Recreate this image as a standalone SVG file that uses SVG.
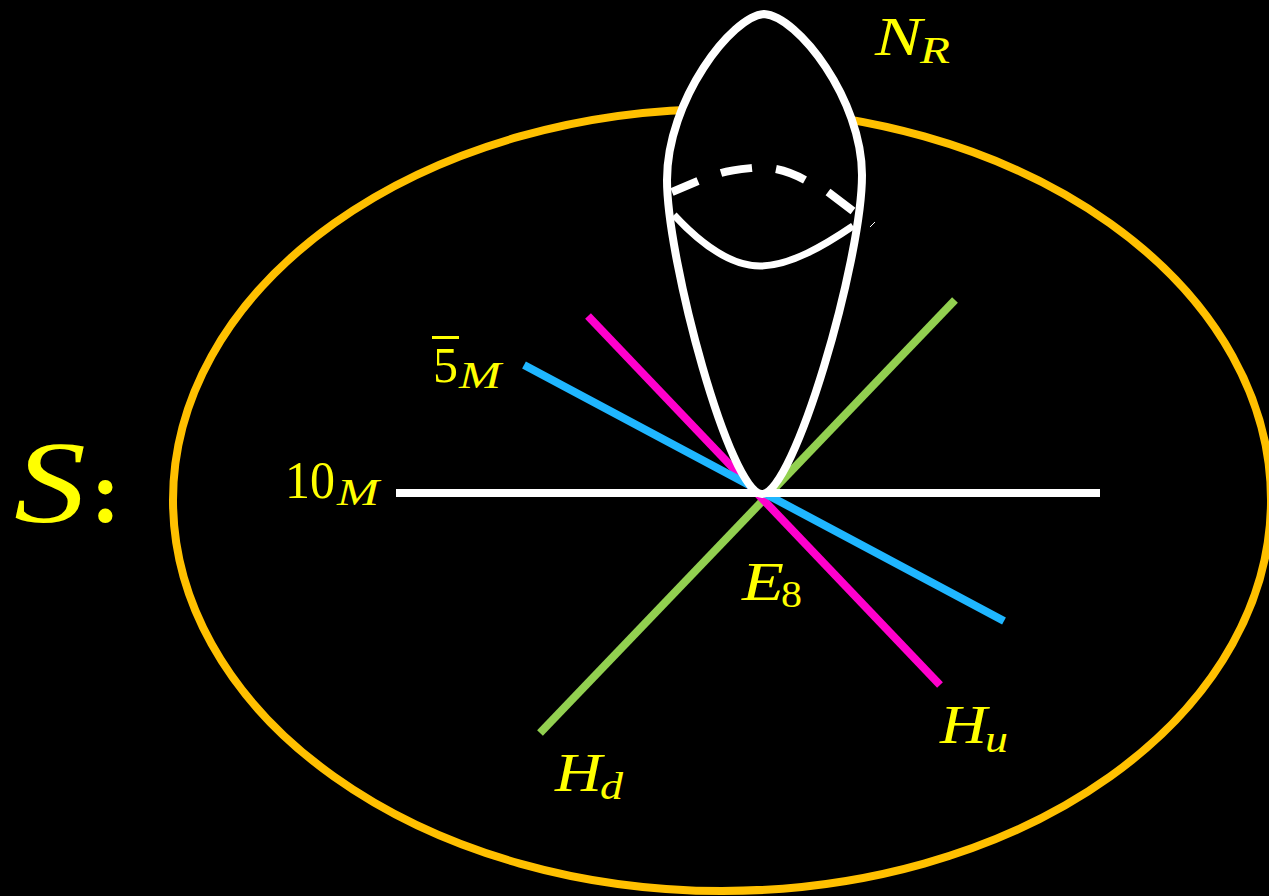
<svg xmlns="http://www.w3.org/2000/svg" width="1269" height="896" viewBox="0 0 1269 896">
<style>
.i{font-family:"Liberation Serif",serif;font-style:italic;fill:#ffff00}
.r{font-family:"Liberation Serif",serif;fill:#ffff00}
.w{fill:none;stroke:#fff}
</style>
<rect width="1269" height="896" fill="#000"/>
<g id="S-curve"><ellipse cx="722" cy="500" rx="549" ry="391" fill="none" stroke="#ffc000" stroke-width="8"/></g>
<g id="connectors" fill="none" stroke-width="8">
<path d="M955 300L540 733" stroke="#92d050"/>
<path d="M588 316L940 685" stroke="#ff00cc"/>
<path d="M524 365L1004 621" stroke="#1fb6ff"/>
<path d="M396 493H1100" stroke="#fff"/>
</g>
<g id="NR">
<path fill="#000" stroke="#fff" stroke-width="8" stroke-linejoin="round" d="M764 14C732 16 667 100 667 180C667 260 730 494 762 494C794 494 862 260 862 175C862 100 798 16 764 14Z"/>
<path class="w" stroke-width="8" d="M672 192L698 181M721 173C731 170 742 169 752 168M776 169C786 171 796 175 805 180M828 192L853 211"/>
<path class="w" stroke-width="7" d="M674 215C700 243 730 266 760 266C790 266 825 245 853 226"/>
<path stroke="#fff" stroke-width="1" d="M870 227L875 222"/>
</g>
<g id="labels">
<text class="i" x="875" y="55" font-size="54" textLength="47" lengthAdjust="spacingAndGlyphs">N</text><text class="i" x="920" y="63" font-size="37" textLength="30" lengthAdjust="spacingAndGlyphs">R</text>
<text class="i" x="14" y="522" font-size="116" textLength="72" lengthAdjust="spacingAndGlyphs">S</text><text class="r" x="91" y="522" font-size="88" font-weight="bold">:</text>
<text class="r" x="285" y="498" font-size="53" textLength="50" lengthAdjust="spacingAndGlyphs">10</text><text class="i" x="337" y="505" font-size="37" textLength="42" lengthAdjust="spacingAndGlyphs">M</text>
<text class="r" x="433" y="382" font-size="50" textLength="25" lengthAdjust="spacingAndGlyphs">5</text><rect x="432" y="336" width="27" height="3" fill="#ffff00"/><text class="i" x="459" y="388" font-size="37" textLength="42" lengthAdjust="spacingAndGlyphs">M</text>
<text class="i" x="742" y="600" font-size="55" textLength="42" lengthAdjust="spacingAndGlyphs">E</text><text class="r" x="781" y="607" font-size="37" textLength="21" lengthAdjust="spacingAndGlyphs">8</text>
<text class="i" x="940" y="743" font-size="55" textLength="47" lengthAdjust="spacingAndGlyphs">H</text><text class="i" x="985" y="752" font-size="37" textLength="23" lengthAdjust="spacingAndGlyphs">u</text>
<text class="i" x="555" y="791" font-size="55" textLength="47" lengthAdjust="spacingAndGlyphs">H</text><text class="i" x="600" y="799" font-size="37" textLength="23" lengthAdjust="spacingAndGlyphs">d</text>
</g>
</svg>
